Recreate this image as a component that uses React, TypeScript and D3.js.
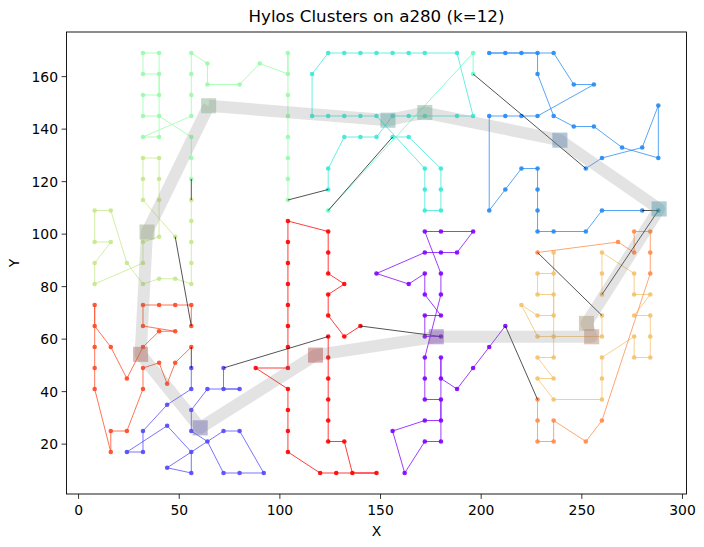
import React, { useEffect } from "react";
import * as d3 from "d3";

type P = [number, number];

// cluster tours, in visiting order (x, y of a280 cities)
const lightGreenTour: P[] = [[56,121],[56,129],[56,137],[40,145],[32,145],[32,153],[40,153],[40,161],[32,161],[32,169],[40,169],[40,137],[32,137],[56,145],[56,153],[56,161],[56,169],[64,165],[64,157],[80,157],[90,165],[104,161],[104,169],[104,153],[104,145],[104,137],[104,129],[104,121],[104,113]];
const tealTour: P[] = [[124,117],[124,125],[132,137],[140,137],[148,137],[156,145],[164,145],[172,145],[188,145],[196,145],[188,169],[172,169],[164,169],[156,169],[148,169],[140,169],[132,169],[124,169],[116,161],[116,145],[124,145],[132,145],[140,145],[148,145],[172,125],[172,117],[172,109],[180,109],[180,117],[180,125],[164,137],[156,137]];
const mintTour: P[] = [[124,109],[196,169],[196,161]];
const blueTour: P[] = [[252,125],[260,129],[280,133],[288,149],[288,129],[270,133],[256,141],[246,141],[236,145],[228,161],[228,169],[220,169],[212,169],[204,169],[236,169],[246,157],[256,157],[228,145],[220,145],[212,145],[204,145],[204,109],[212,117],[220,125],[228,125],[228,117],[228,109],[228,101],[236,101],[252,101],[260,109],[280,109]];
const cyanTour: P[] = [[288,109]];
const lightOrangeTour: P[] = [[260,77],[260,85],[260,93],[276,85],[276,77],[284,77],[276,69],[284,69],[284,61],[284,53],[276,53],[276,61],[260,53],[260,45],[260,37],[236,37],[228,45],[236,45],[228,53],[236,53],[236,93],[236,85],[228,85],[228,77],[236,77],[236,69],[228,69],[220,73],[228,61],[236,61],[260,61],[260,69]];
const orangeTour: P[] = [[228,93],[268,97],[276,93],[276,101],[284,101],[284,93],[284,85],[260,29],[252,21],[236,29],[236,21],[228,21],[228,29],[228,37]];
const purpleTour: P[] = [[212,65],[204,57],[196,49],[188,41],[180,45],[180,53],[180,21],[172,21],[162,9],[156,25],[172,29],[180,29],[180,37],[172,37],[172,45],[172,53],[180,77],[180,85],[172,101],[180,101],[196,101],[188,93],[180,93],[172,93],[148,85],[164,81],[172,85],[172,77],[180,69],[172,69],[172,61],[180,61]];
const redTour: P[] = [[140,65],[132,61],[124,69],[124,77],[132,81],[124,85],[124,93],[124,101],[104,105],[104,97],[104,89],[104,81],[104,73],[104,65],[104,57],[104,49],[88,49],[104,41],[104,33],[104,25],[104,17],[120,9],[128,9],[148,9],[136,9],[132,21],[124,21],[124,29],[124,37],[124,45],[124,53],[124,61]];
const bluePurpleTour: P[] = [[72,49],[72,41],[80,41],[64,41],[56,33],[56,25],[64,21],[72,9],[80,9],[92,9],[80,25],[72,25],[44,11],[56,9],[56,17],[44,27],[24,17],[32,17],[32,25],[44,35],[56,41],[56,49]];
const redOrangeTour: P[] = [[56,57],[48,51],[44,43],[40,51],[32,49],[32,41],[24,25],[16,25],[16,17],[8,41],[8,49],[8,57],[8,73],[8,65],[16,57],[24,45],[32,57],[40,63],[48,63],[32,65],[32,73],[40,73],[48,73],[56,73],[56,65]];
const yellowGreenTour: P[] = [[48,99],[32,113],[32,121],[32,129],[40,129],[40,121],[40,113],[40,99],[32,97],[32,89],[8,81],[8,89],[16,97],[8,97],[8,109],[16,109],[24,89],[32,81],[40,83],[48,83],[56,81],[56,89],[56,97],[56,105],[56,113]];

// order the clusters are visited in, with their colour index (0..11) and centre marks
const tours = [lightGreenTour, tealTour, mintTour, blueTour, cyanTour, lightOrangeTour, orangeTour, purpleTour, redTour, bluePurpleTour, redOrangeTour, yellowGreenTour];
const clusterIds = [6, 4, 5, 2, 3, 8, 9, 0, 11, 1, 10, 7];
const centres: P[] = [[64.6,148.9],[153.7,143.4],[172,146.3],[239.1,135.8],[288.4,109.6],[252.3,66],[254.9,60.9],[177.7,60.9],[117.7,53.9],[60.4,26.2],[30.8,54.2],[34,100.8]];

const xTicks = [0, 50, 100, 150, 200, 250, 300];
const yTicks = [20, 40, 60, 80, 100, 120, 140, 160];

// matplotlib "rainbow" colormap
const rainbow = (t: number) => {
  const r = Math.min(1, Math.abs(2 * t - 0.5));
  const g = Math.sin(Math.PI * t);
  const b = Math.cos((Math.PI * t) / 2);
  return d3.rgb(r * 255, g * 255, b * 255).formatHex();
};

export default function App() {
  useEffect(() => {
    document.body.style.margin = "0";
    document.body.style.overflow = "hidden";
  }, []);

  const W = 704, H = 547;
  const m = { left: 66.5, right: 686.5, top: 32, bottom: 494 };
  const x = d3.scaleLinear().domain([-6, 302]).range([m.left, m.right]);
  const y = d3.scaleLinear().domain([1, 177]).range([m.bottom, m.top]);
  const line = d3.line<P>().x((d) => x(d[0])).y((d) => y(d[1]));

  const links: P[][] = tours.map((t, i) => {
    const next = tours[(i + 1) % tours.length];
    return [t[t.length - 1], next[0]];
  });
  const loop = [...centres, centres[0]];
  const font = "DejaVu Sans, sans-serif";

  return (
    <svg width={W} height={H} style={{ display: "block", fontFamily: font }}>
      <rect width={W} height={H} fill="white" />
      <defs>
        <clipPath id="plot">
          <rect x={m.left} y={m.top} width={m.right - m.left} height={m.bottom - m.top} />
        </clipPath>
      </defs>
      <g clipPath="url(#plot)">
        {tours.map((t, i) => {
          const c = rainbow(clusterIds[i] / 11);
          return (
            <g key={i}>
              <path d={line(t) || ""} fill="none" stroke={c} strokeWidth={0.9} opacity={0.85} />
              {t.map((p, j) => (
                <circle key={j} cx={x(p[0])} cy={y(p[1])} r={2.3} fill={c} opacity={0.9} />
              ))}
            </g>
          );
        })}
        {links.map((l, i) => (
          <path key={i} d={line(l) || ""} stroke="black" strokeWidth={0.8} opacity={0.85} fill="none" />
        ))}
        <path d={line(loop) || ""} fill="none" stroke="#808080" strokeOpacity={0.22}
          strokeWidth={12} strokeLinejoin="round" />
        {centres.map((p, i) => (
          <g key={i}>
            <rect x={x(p[0]) - 7.5} y={y(p[1]) - 7.5} width={15} height={15}
              fill={rainbow(clusterIds[i] / 11)} opacity={0.25} />
            <rect x={x(p[0]) - 7.5} y={y(p[1]) - 7.5} width={15} height={15}
              fill="#808080" opacity={0.3} />
          </g>
        ))}
      </g>
      <rect x={m.left} y={m.top} width={m.right - m.left} height={m.bottom - m.top}
        fill="none" stroke="black" strokeWidth={0.9} />
      {xTicks.map((t) => (
        <g key={t} transform={`translate(${x(t)},${m.bottom})`}>
          <line y2={4.9} stroke="black" strokeWidth={0.8} />
          <text y={20.5} textAnchor="middle" fontSize={13.9}>{t}</text>
        </g>
      ))}
      {yTicks.map((t) => (
        <g key={t} transform={`translate(${m.left},${y(t)})`}>
          <line x2={-4.9} stroke="black" strokeWidth={0.8} />
          <text x={-8.5} dy="0.35em" textAnchor="end" fontSize={13.9}>{t}</text>
        </g>
      ))}
      <text x={(m.left + m.right) / 2} y={536} textAnchor="middle" fontSize={13.9}>X</text>
      <text transform={`translate(19,${(m.top + m.bottom) / 2}) rotate(-90)`} textAnchor="middle"
        fontSize={13.9}>Y</text>
      <text x={(m.left + m.right) / 2} y={22} textAnchor="middle" fontSize={16.7}>
        Hylos Clusters on a280 (k=12)
      </text>
    </svg>
  );
}
